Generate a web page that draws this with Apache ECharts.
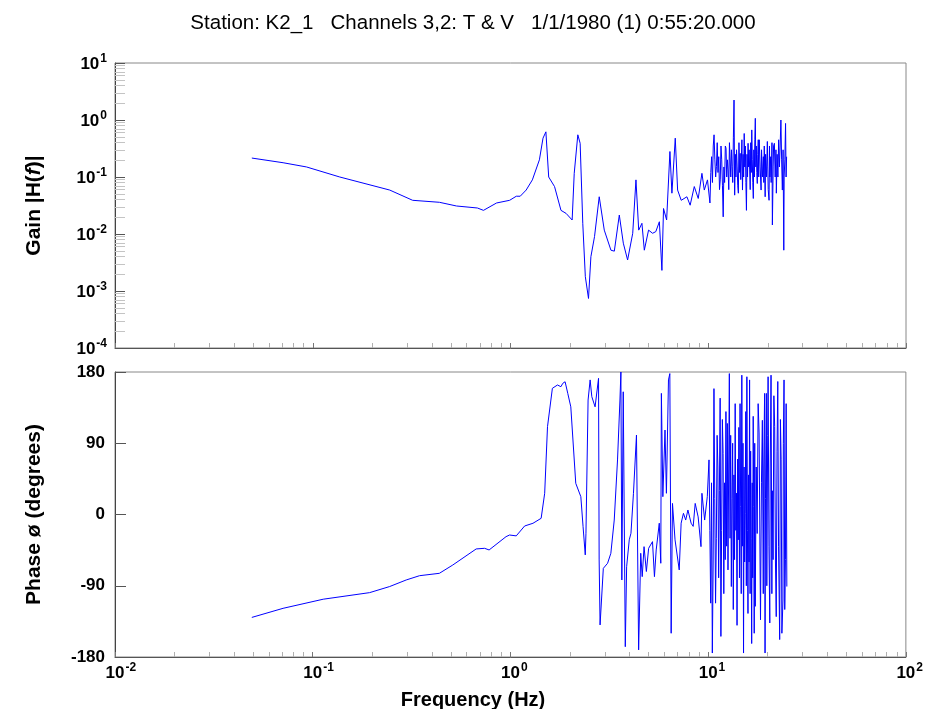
<!DOCTYPE html>
<html>
<head>
<meta charset="utf-8">
<script src="https://cdn.jsdelivr.net/npm/echarts@6/dist/echarts.min.js"></script>
<style>
  html, body { margin: 0; padding: 0; background: #fff; }
  #chart { width: 926px; height: 709px; }
</style>
</head>
<body>
<div id="chart"></div>
<script>
// Transfer function estimate, channels 3 (T) and 2 (V)
const titleText = 'Station: K2_1   Channels 3,2: T & V   1/1/1980 (1) 0:55:20.000';

// Gain |H(f)| samples: frequency (Hz) and gain
const gainFreq = [
  0.0492, 0.0708, 0.093, 0.137, 0.245, 0.32, 0.437, 0.533, 0.68, 0.73, 0.85, 0.99,
  1.07, 1.12, 1.2, 1.29, 1.40, 1.46, 1.51, 1.56, 1.67, 1.80, 1.91, 2.05, 2.10, 2.19,
  2.25, 2.32, 2.39, 2.48, 2.55, 2.66, 2.81, 2.98, 3.22, 3.35, 3.55, 3.72, 3.91, 4.15,
  4.31, 4.45, 4.62, 4.75, 4.99, 5.23, 5.43, 5.66, 5.83, 5.94, 6.16, 6.40, 6.55, 6.81,
  7.0, 7.3, 7.8, 8.1, 8.5, 8.9, 9.01, 9.29, 9.55, 9.91,
  10.2, 10.3, 10.4, 10.5, 10.6, 10.7, 10.8, 10.9, 11.0, 11.1, 11.2, 11.3, 11.4, 11.5,
  11.6, 11.7, 11.8, 11.9, 12.0, 12.1, 12.2, 12.3, 12.4, 12.5, 12.6, 12.7, 12.8, 12.9,
  13.0, 13.1, 13.2, 13.3, 13.4, 13.5, 13.6, 13.7, 13.8, 13.9, 14.0, 14.1, 14.2, 14.3,
  14.4, 14.5, 14.6, 14.8, 14.9, 15.0, 15.1, 15.2, 15.3, 15.4, 15.5, 15.6, 15.7, 15.8,
  15.9, 16.0, 16.1, 16.2, 16.3, 16.4, 16.5, 16.6, 16.7, 16.8, 16.9, 17.0, 17.1, 17.2,
  17.3, 17.4, 17.5, 17.6, 17.7, 17.8, 17.9, 18.0, 18.1, 18.3, 18.5, 18.6, 18.8, 19.0,
  19.1, 19.2, 19.4, 19.5, 19.7, 19.9, 20.0, 20.1, 20.3, 20.4, 20.5, 20.7, 20.8, 21.0,
  21.1, 21.3, 21.4, 21.6, 21.8, 22.0, 22.1, 22.3, 22.5, 22.7, 22.9, 23.1, 23.3, 23.5,
  23.7, 23.9, 24.1, 24.2, 24.4, 24.6, 24.75, 24.9
];
const gainVals = [
  0.215, 0.178, 0.15, 0.10, 0.059, 0.039, 0.036, 0.031, 0.0286, 0.026, 0.035, 0.039,
  0.046, 0.046, 0.059, 0.089, 0.2, 0.48, 0.62, 0.10, 0.068, 0.026, 0.023, 0.0176, 0.116, 0.55,
  0.39, 0.0154, 0.00178, 0.00074, 0.004, 0.009, 0.045, 0.0117, 0.0052, 0.005, 0.0215, 0.0069, 0.0035, 0.0103,
  0.089, 0.0117, 0.0154, 0.0052, 0.0117, 0.0103, 0.011, 0.0164, 0.0023, 0.028, 0.0176, 0.28, 0.052, 0.48,
  0.059, 0.039, 0.045, 0.032, 0.068, 0.042, 0.039, 0.116, 0.059, 0.089,
  0.035, 0.12, 0.227, 0.08, 0.35, 0.55, 0.2, 0.1, 0.152, 0.4, 0.12, 0.227, 0.06, 0.089,
  0.35, 0.2, 0.07, 0.020, 0.15, 0.08, 0.35, 0.32, 0.1, 0.2, 0.133, 0.06, 0.4, 0.39,
  0.1, 0.3, 0.152, 0.08, 0.5, 2.24, 0.048, 0.25, 0.1, 0.30, 0.15, 0.07, 0.052, 0.4,
  0.12, 0.26, 0.09, 0.45, 0.059, 0.25, 0.1, 0.58, 0.15, 0.35, 0.08, 0.026, 0.25, 0.1,
  0.39, 0.15, 0.3, 0.133, 0.06, 0.4, 0.12, 0.67, 0.2, 0.08, 0.042, 0.3, 0.1, 0.45,
  1.07, 0.15, 0.35, 0.12, 0.077, 0.25, 0.45, 0.1, 0.45, 0.15, 0.059, 0.3, 0.1, 0.227,
  0.08, 0.35, 0.045, 0.25, 0.1, 0.42, 0.15, 0.06, 0.039, 0.35, 0.1, 0.227, 0.08, 0.4,
  0.0144, 0.15, 0.35, 0.39, 0.1, 0.3, 0.052, 0.25, 0.1, 0.45, 0.15, 0.35, 1.0, 0.2,
  0.059, 0.3, 0.0052, 0.1, 0.2, 0.87, 0.1, 0.227
];

// Phase samples: frequency (Hz) and phase (degrees)
const phaseFreq = [
  0.0492, 0.0708, 0.113, 0.194, 0.245, 0.297, 0.347, 0.437, 0.511, 0.671, 0.74, 0.78,
  0.95, 0.99, 1.07, 1.18, 1.30, 1.43, 1.49, 1.54, 1.63, 1.73, 1.80, 1.84, 1.89, 1.95,
  2.02, 2.14, 2.27, 2.33, 2.39, 2.41, 2.47, 2.53, 2.58, 2.68, 2.72, 2.79, 2.81, 2.84,
  2.95, 3.1, 3.22, 3.35, 3.48, 3.58, 3.62, 3.66, 3.72, 3.81, 3.87, 3.99, 4.07, 4.19,
  4.34, 4.45, 4.56, 4.64, 4.74, 4.87, 5.0, 5.23, 5.35, 5.46, 5.66, 5.76, 5.8, 5.9,
  6.05, 6.15, 6.3, 6.4, 6.5, 6.6, 6.8, 7.14, 7.3, 7.5, 7.7, 7.9, 8.2, 8.4, 8.6, 8.9,
  9.2, 9.3, 9.6, 9.9,
  10.1, 10.2, 10.3, 10.4, 10.5, 10.6, 10.7, 10.8, 10.9, 11.0, 11.1, 11.2, 11.3, 11.4,
  11.5, 11.6, 11.7, 11.8, 11.9, 12.0, 12.1, 12.2, 12.3, 12.4, 12.5, 12.6, 12.7, 12.8,
  12.9, 13.0, 13.1, 13.2, 13.3, 13.4, 13.5, 13.6, 13.7, 13.8, 13.9, 14.0, 14.1, 14.2,
  14.3, 14.4, 14.5, 14.6, 14.7, 14.8, 14.9, 15.0, 15.1, 15.2, 15.3, 15.4, 15.5, 15.6,
  15.7, 15.8, 15.9, 16.0, 16.1, 16.2, 16.3, 16.4, 16.5, 16.6, 16.7, 16.8, 16.9, 17.0,
  17.1, 17.2, 17.3, 17.5, 17.7, 17.9, 18.1, 18.3, 18.4, 18.6, 18.8, 19.0, 19.1, 19.3,
  19.4, 19.5, 19.7, 19.8, 20.0, 20.1, 20.3, 20.5, 20.6, 20.8, 21.0, 21.1, 21.3, 21.5,
  21.7, 21.9, 22.1, 22.3, 22.5, 22.7, 23.0, 23.2, 23.4, 23.6, 23.9, 24.0, 24.2, 24.4,
  24.6, 24.8, 25.0
];
const phaseVals = [
  -130, -118.5, -107, -98.7, -91, -82.7, -77.3, -74.3, -63.8, -43.5, -42.7, -44.8,
  -28, -25.9, -27, -14.5, -11.1, -4.8, 26.8, 111, 159.4, 163.6, 161.4, 165.7, 167.7, 153,
  136, 39.4, 22.5, -15.4, -51, -23.7, 144.6, 170, 148.8, 136, 136, 172, -57.4, -139.5,
  -68, -61.6, -49, -7, 68.9, 144.6, 180, -82.7, 155, -167, -66, -32, -23.7, 26.8,
  100.4, -171, -49, -78.5, -40.6, -72, -42.7, -34.3, -78.5, -44.8, -11, -61.6, 153, 22.5,
  106.7, 26.8, 170, 178, -150, 14, -32, -70, -11, 1.5, -7, 5.7, -11, -15, 14, -3,
  -40.6, 26.8, -7, 22.5,
  69, -20, -112, 40, -175, -60, 159, 20, -112, -30, 100, 60, -80, 30,
  147, -154, -20, 120, 77, -100, 40, -57, 130, -40, 115, -70, 60, 178,
  -30, 100, -91, 20, 90, -120, 50, -57, 140, -20, 27, -140, 70, -32,
  110, -80, 140, 10, -100, 176, -40, 90, -175, 60, -60, 1.5, 130, -90,
  174, -20, -125, 50, -60, 170, -100, 80, -30, -163, 40, -80, 124, 10,
  -150, 90, -116, 60, -24, 140, 103, -60, -133, 40, 119, -100, 60, 153,
  -175, 20, 153, -90, 100, 174, -40, -137, 60, 176, -100, 30, -57, 150,
  111, -60, -129, 80, 168, -40, -158, 120, 69, -150, -108, 90, 170, -120,
  -57, 140, -91
];

// Axis tick values
const freqDecades = [0.01, 0.1, 1, 10, 100];
const gainDecades = [1e-4, 1e-3, 1e-2, 1e-1, 1, 10];

function minorLogTicks(decades) {
  const out = [];
  for (let i = 0; i < decades.length - 1; i++) {
    for (let m = 2; m <= 9; m++) out.push(+(m * decades[i]).toPrecision(6));
  }
  return out;
}
const freqMinor = minorLogTicks(freqDecades);
const gainMinor = minorLogTicks(gainDecades);

const FONT = '"Liberation Sans", Arial, sans-serif';
const powRich = {
  b: { fontFamily: FONT, fontSize: 17, fontWeight: 'bold', color: '#000', lineHeight: 20, verticalAlign: 'bottom' },
  s: { fontFamily: FONT, fontSize: 12, fontWeight: 'bold', color: '#000', lineHeight: 20, verticalAlign: 'top', padding: [0, 0, 0, 1] },
  h: { fontFamily: FONT, fontSize: 12, fontWeight: 'bold', color: 'rgba(0,0,0,0)', lineHeight: 20, verticalAlign: 'top', padding: [0, 0, 0, 1] }
};
const exp10 = v => Math.round(Math.log10(v));

const chart = echarts.init(document.getElementById('chart'), null, { renderer: 'canvas' });

const logX = (gridIndex, ticks, tickColor, withLabels, withLine) => ({
  type: 'log', logBase: 10, gridIndex, position: 'bottom', min: 0.01, max: 100,
  axisLine: { show: withLine, onZero: false, lineStyle: { color: '#555', width: 1 } },
  axisTick: { show: true, inside: true, length: 5, customValues: ticks, lineStyle: { color: tickColor } },
  axisLabel: withLabels ? {
    show: true, margin: 5, customValues: freqDecades,
    formatter: v => { const e = exp10(v); return '{h|' + e + '}{b|10}{s|' + e + '}'; },
    rich: powRich
  } : { show: false },
  splitLine: { show: false }
});

const option = {
  animation: false,
  backgroundColor: '#fff',
  title: [
    { text: titleText, left: 468, top: 8, textAlign: 'center',
      textStyle: { fontFamily: FONT, fontSize: 20.5, fontWeight: 'normal', color: '#000' } },
    { text: 'Frequency (Hz)', left: 468, top: 685, textAlign: 'center',
      textStyle: { fontFamily: FONT, fontSize: 20, fontWeight: 'bold', color: '#000' } }
  ],
  grid: [
    { left: 115, right: 20, top: 63, height: 285, show: true, borderColor: '#888', borderWidth: 1, backgroundColor: '#fff' },
    { left: 115, right: 20, top: 372, height: 285, show: true, borderColor: '#888', borderWidth: 1, backgroundColor: '#fff' }
  ],
  xAxis: [
    logX(0, freqMinor, '#b0b0b0', false, true),
    logX(0, freqDecades, '#777', false, false),
    logX(1, freqMinor, '#b0b0b0', true, true),
    logX(1, freqDecades, '#777', false, false)
  ],
  yAxis: [
    {
      type: 'log', logBase: 10, gridIndex: 0, position: 'left', min: 1e-4, max: 10,
      name: '{n|Gain |H(}{i|f}{n|)|}', nameLocation: 'middle', nameGap: 70, nameRotate: 90,
      nameTextStyle: { rich: {
        n: { fontFamily: FONT, fontSize: 21, fontWeight: 'bold', color: '#000' },
        i: { fontFamily: FONT, fontSize: 21, fontWeight: 'bold', fontStyle: 'italic', color: '#000' }
      } },
      axisLine: { show: true, lineStyle: { color: '#444' } },
      axisTick: { show: true, inside: true, length: 10, customValues: gainDecades, lineStyle: { color: '#555' } },
      axisLabel: {
        show: true, margin: 8, customValues: gainDecades,
        formatter: v => '{b|10}{s|' + exp10(v) + '}', rich: powRich
      },
      splitLine: { show: false }
    },
    {
      type: 'log', logBase: 10, gridIndex: 0, position: 'left', min: 1e-4, max: 10,
      axisLine: { show: false },
      axisTick: { show: true, inside: true, length: 10, customValues: gainMinor, lineStyle: { color: '#c4c4c4' } },
      axisLabel: { show: false },
      splitLine: { show: false }
    },
    {
      type: 'value', gridIndex: 1, position: 'left', min: -180, max: 180, interval: 90,
      name: 'Phase ø (degrees)', nameLocation: 'middle', nameGap: 70, nameRotate: 90,
      nameTextStyle: { fontFamily: FONT, fontSize: 21, fontWeight: 'bold', color: '#000' },
      axisLine: { show: true, lineStyle: { color: '#444' } },
      axisTick: { show: true, inside: true, length: 11, lineStyle: { color: '#555' } },
      axisLabel: { show: true, margin: 10, fontFamily: FONT, fontSize: 17, fontWeight: 'bold', color: '#000' },
      splitLine: { show: false }
    }
  ],
  series: [
    {
      name: 'Gain', type: 'line', xAxisIndex: 0, yAxisIndex: 0,
      data: gainFreq.map((f, i) => [f, gainVals[i]]),
      showSymbol: false, symbol: 'none', clip: true,
      lineStyle: { color: '#0000ff', width: 1 }
    },
    {
      name: 'Phase', type: 'line', xAxisIndex: 2, yAxisIndex: 2,
      data: phaseFreq.map((f, i) => [f, phaseVals[i]]),
      showSymbol: false, symbol: 'none', clip: true,
      lineStyle: { color: '#0000ff', width: 1 }
    }
  ]
};

chart.setOption(option);
</script>
</body>
</html>
